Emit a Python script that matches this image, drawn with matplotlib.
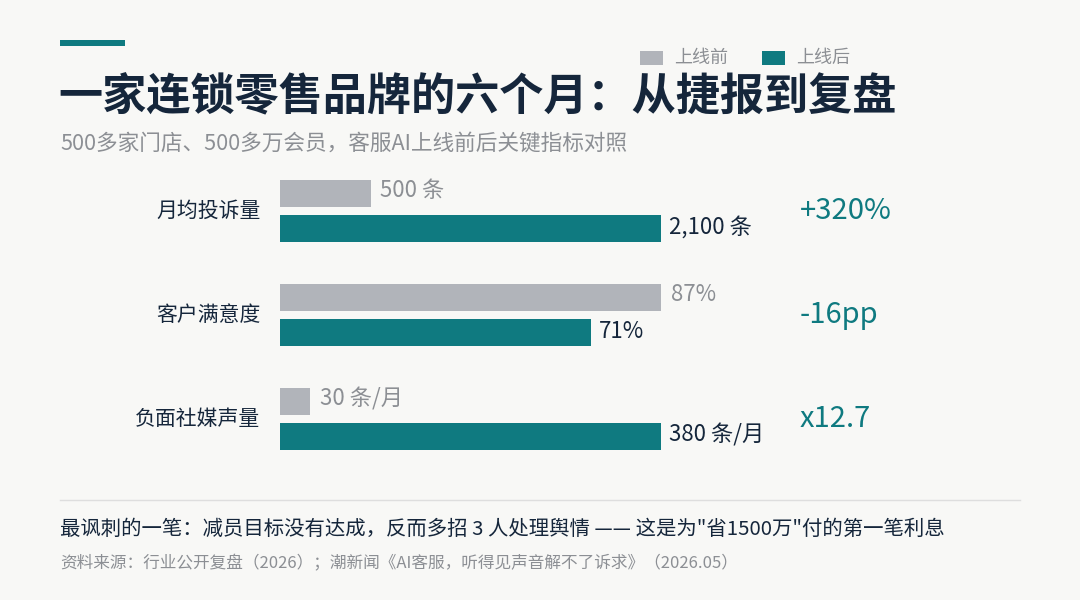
import matplotlib
matplotlib.use("Agg")
import matplotlib.pyplot as plt
from matplotlib.patches import Rectangle

plt.rcParams['font.family'] = ['Noto Sans CJK SC', 'DejaVu Sans']

# data
metrics = ["月均投诉量", "客户满意度", "负面社媒声量"]
before = [500, 87, 30]
after = [2100, 71, 380]
before_labels = ["500 条", "87%", "30 条/月"]
after_labels = ["2,100 条", "71%", "380 条/月"]
changes = ["+320%", "-16pp", "x12.7"]

BG = "#f8f8f6"
TEAL = "#0f7a80"
GRAY = "#b1b4ba"
NAVY = "#15263b"
MUTED = "#8c8f94"

W, H = 1080, 600
fig = plt.figure(figsize=(10.8, 6.0), dpi=100, facecolor=BG)


def fx(px):
    return px / W


def fy(py):
    return 1 - py / H


# accent bar
fig.patches.append(Rectangle((fx(60), fy(46)), fx(65), 6 / H, transform=fig.transFigure,
                             color=TEAL, lw=0))

# legend
fig.patches.append(Rectangle((fx(640), fy(65)), fx(23), 14 / H, transform=fig.transFigure,
                             color=GRAY, lw=0))
fig.text(fx(674), fy(58), "上线前", fontsize=13, color=MUTED, va="center")
fig.patches.append(Rectangle((fx(762), fy(65)), fx(23), 14 / H, transform=fig.transFigure,
                             color=TEAL, lw=0))
fig.text(fx(796), fy(58), "上线后", fontsize=13, color=MUTED, va="center")

# title + subtitle
fig.text(fx(58), fy(97), "一家连锁零售品牌的六个月：从捷报到复盘", fontsize=31.8,
         fontweight="bold", color=NAVY, va="center")
fig.text(fx(60), fy(144), "500多家门店、500多万会员，客服AI上线前后关键指标对照",
         fontsize=15.6, color=MUTED, va="center")

# bars
ax = fig.add_axes([fx(280), 1 - 471 / H, fx(381), 312 / H])
ax.set_facecolor(BG)
ax.set_xlim(0, 1)
ax.set_ylim(2.5, -0.5)
ax.axis("off")

off = 0.17
bh = 0.26
for i, m in enumerate(metrics):
    top = max(before[i], after[i])
    b = before[i] / top
    a = after[i] / top
    ax.barh(i - off, b, height=bh, color=GRAY)
    ax.barh(i + off, a, height=bh, color=TEAL)
    ax.annotate(before_labels[i], (b, i - off), xytext=(7, 2), textcoords="offset points",
                va="center", ha="left", fontsize=16, color=MUTED, annotation_clip=False)
    ax.annotate(after_labels[i], (a, i + off), xytext=(6, 1), textcoords="offset points",
                va="center", ha="left", fontsize=16, color=NAVY, annotation_clip=False)
    ax.annotate(m, (0, i), xytext=(-14, 0), textcoords="offset points",
                va="center", ha="right", fontsize=15, color=NAVY, annotation_clip=False)
    ax.annotate(changes[i], (1, i), xytext=(100, 0), textcoords="offset points",
                va="center", ha="left", fontsize=21, color=TEAL, annotation_clip=False)

# separator + footer
fig.add_artist(plt.Line2D([fx(60), fx(1020)], [fy(500), fy(500)], color="#dedede", lw=1))
fig.text(fx(60), fy(529), "最讽刺的一笔：减员目标没有达成，反而多招 3 人处理舆情 —— 这是为\"省1500万\"付的第一笔利息",
         fontsize=14.7, color=NAVY, va="center")
fig.text(fx(60), fy(564), "资料来源：行业公开复盘（2026）；潮新闻《AI客服，听得见声音解不了诉求》（2026.05）",
         fontsize=12, color=MUTED, va="center")

fig.savefig("out.png", dpi=100, facecolor=BG)
